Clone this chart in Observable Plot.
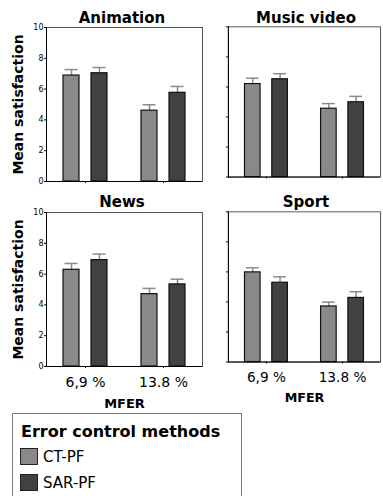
<!DOCTYPE html>
<html><head><meta charset="utf-8">
<script src="https://cdn.jsdelivr.net/npm/d3@7"></script>
<script src="https://cdn.jsdelivr.net/npm/@observablehq/plot@0.6"></script>
<style>
html,body{margin:0;padding:0;background:#fff;overflow:hidden;}
#chart{position:relative;width:383px;height:496px;overflow:hidden;font-family:"DejaVu Sans",sans-serif;color:#000;}
.panel{position:absolute;line-height:0;}
.panel svg{display:block;}
.title{position:absolute;width:160px;text-align:center;font:bold 15px "DejaVu Sans";line-height:16px;white-space:nowrap;}
.legend{position:absolute;box-sizing:border-box;border:1px solid #7a7a7a;background:#fff;}
.legend .lt{position:absolute;left:8px;top:9px;font:bold 16px "DejaVu Sans";line-height:18px;white-space:nowrap;}
.legend .sw{position:absolute;left:7px;width:18px;height:17px;box-sizing:border-box;border:1px solid #222;}
.legend .ll{position:absolute;left:30px;font:15px "DejaVu Sans";line-height:18px;white-space:nowrap;}
svg g[aria-label="y-axis tick label"] text{font:8px "DejaVu Sans";}
svg g[aria-label="y-axis label"] text{font:bold 14px "DejaVu Sans";}
svg g[aria-label="fx-axis tick label"] text{font:14px "DejaVu Sans";}
svg g[aria-label="fx-axis label"] text{font:bold 13px "DejaVu Sans";}
</style></head><body><div id="chart"></div>
<script>
const panelNames = ["Animation", "Music video", "News", "Sport"];
const mferLevels = ["6,9 %", "13.8 %"];
const methods = ["CT-PF", "SAR-PF"];
const methodColors = ["#898989", "#414141"];
const yTicks = [0, 2, 4, 6, 8, 10];
const yLabel = "Mean satisfaction";
const xLabel = "MFER";
const legendTitle = "Error control methods";
// order: CT-PF @6,9 %, SAR-PF @6,9 %, CT-PF @13.8 %, SAR-PF @13.8 %
const animationMeans = [6.88, 7.03, 4.60, 5.76];
const animationErrs  = [0.39, 0.37, 0.38, 0.41];
const musicVideoMeans = [6.19, 6.51, 4.55, 4.98];
const musicVideoErrs  = [0.39, 0.37, 0.34, 0.39];
const newsMeans = [6.28, 6.91, 4.70, 5.33];
const newsErrs  = [0.41, 0.39, 0.37, 0.34];
const sportMeans = [5.97, 5.28, 3.70, 4.27];
const sportErrs  = [0.31, 0.39, 0.29, 0.41];

function rows(means, errs) {
  const out = [];
  mferLevels.forEach((m, i) => methods.forEach((k, j) => {
    const idx = i * 2 + j;
    out.push({mfer: m, method: k, mean: means[idx], hi: means[idx] + errs[idx]});
  }));
  return out;
}

const chart = document.getElementById("chart");

function panel(name, means, errs, pos) {
  const data = rows(means, errs);
  const ml = 45;
  const pw = pos.leftCol ? 157 : 156;
  const mb = pos.bottomRow ? 50 : 9;
  const svg = Plot.plot({
    width: ml + pw + 3, height: 27 + 154 + mb,
    marginLeft: ml, marginRight: 3, marginTop: 27, marginBottom: mb,
    style: {background: "transparent", overflow: "visible"},
    fx: {domain: mferLevels, padding: 0, tickSize: 2, tickPadding: 9,
         tickFormat: pos.bottomRow ? d => d : () => "",
         label: pos.bottomRow ? xLabel : null, labelAnchor: "center", labelOffset: 41},
    x: {domain: methods, paddingInner: 0.414, paddingOuter: 0.56, axis: null},
    y: {domain: [0, 10]},
    color: {domain: methods, range: methodColors},
    marks: [
      Plot.frame({facet: "super", stroke: "#555"}),
      Plot.frame({facet: "super", anchor: "left", stroke: "#000"}),
      Plot.axisY({anchor: "left", ticks: yTicks, tickSize: 2, tickPadding: 1,
                  tickFormat: pos.leftCol ? d => d : () => "",
                  label: pos.leftCol ? yLabel : null, labelAnchor: "center", labelOffset: 33, labelArrow: "none"}),
      Plot.ruleX(data, {x: "method", fx: "mfer", y1: "mean", y2: "hi", stroke: "#8a8a8a", strokeWidth: 1.5}),
      Plot.tickY(data, {x: "method", fx: "mfer", y: "hi", stroke: "#8a8a8a", strokeWidth: 1.5, insetLeft: 1.5, insetRight: 1.5}),
      Plot.barY(data, {x: "method", fx: "mfer", y: "mean", fill: "method", stroke: "#111", strokeWidth: 1.2}),
      Plot.ruleY([0], {stroke: "#000"})
    ]
  });
  const div = document.createElement("div");
  div.className = "panel";
  div.style.left = (pos.x - ml) + "px";
  div.style.top = (pos.y - 27) + "px";
  div.appendChild(svg);
  chart.appendChild(div);
  const t = document.createElement("div");
  t.className = "title";
  t.textContent = name;
  t.style.left = (pos.tx - 80) + "px";
  t.style.top = pos.ty + "px";
  chart.appendChild(t);
}

panel(panelNames[0], animationMeans, animationErrs, {x: 45, y: 27, leftCol: true, bottomRow: false, tx: 122, ty: 10});
panel(panelNames[1], musicVideoMeans, musicVideoErrs, {x: 229, y: 27, leftCol: false, bottomRow: false, tx: 306, ty: 10});
panel(panelNames[2], newsMeans, newsErrs, {x: 45, y: 212, leftCol: true, bottomRow: true, tx: 122, ty: 194});
panel(panelNames[3], sportMeans, sportErrs, {x: 229, y: 212, leftCol: false, bottomRow: true, tx: 306, ty: 194});

const lg = document.createElement("div");
lg.className = "legend";
Object.assign(lg.style, {left: "12px", top: "413px", width: "230px", height: "100px"});
const lt = document.createElement("div");
lt.className = "lt"; lt.textContent = legendTitle;
lg.appendChild(lt);
methods.forEach((m, i) => {
  const sw = document.createElement("div");
  sw.className = "sw";
  sw.style.top = (34 + i * 26) + "px";
  sw.style.background = methodColors[i];
  lg.appendChild(sw);
  const ll = document.createElement("div");
  ll.className = "ll"; ll.textContent = m;
  ll.style.top = (34 + i * 26) + "px";
  lg.appendChild(ll);
});
chart.appendChild(lg);
</script></body></html>
